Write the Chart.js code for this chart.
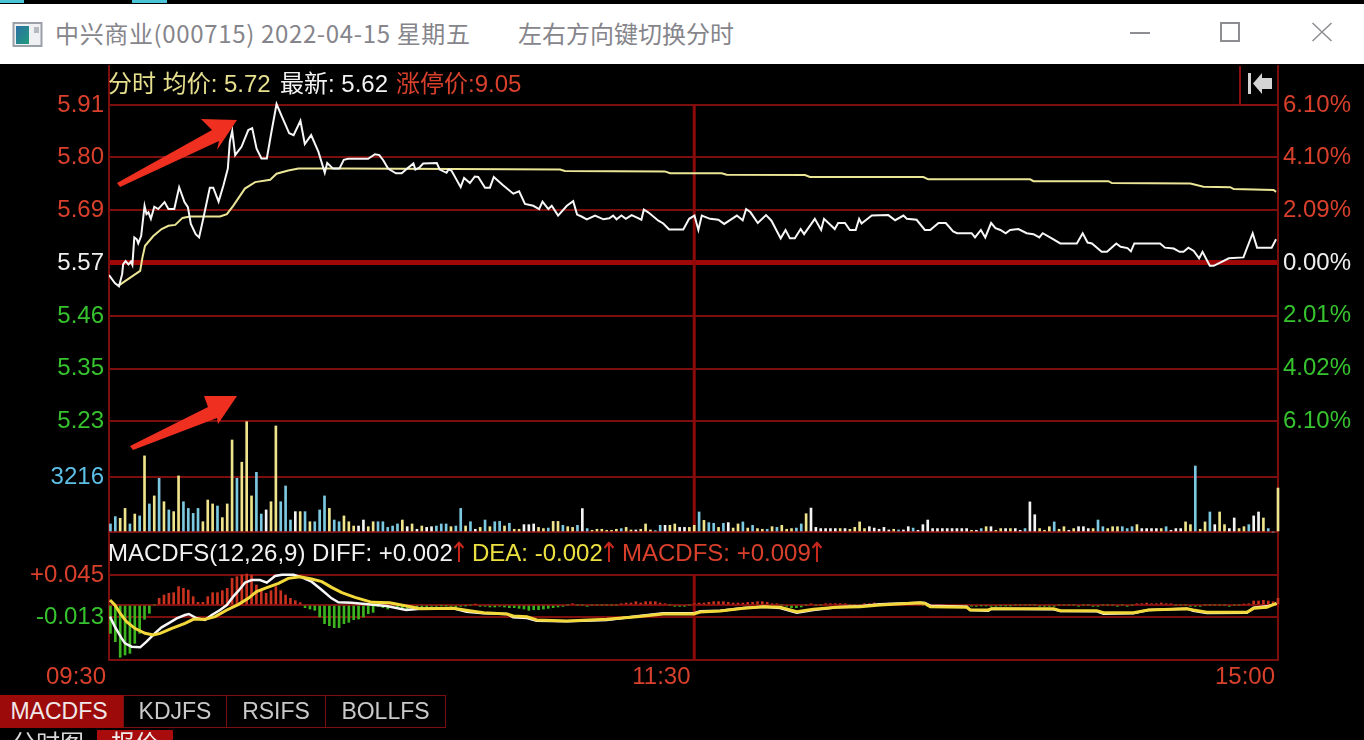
<!DOCTYPE html>
<html>
<head>
<meta charset="utf-8">
<title>中兴商业(000715) 分时</title>
<script src="https://cdn.jsdelivr.net/npm/chart.js@4/dist/chart.umd.min.js"></script>
<style>
  html, body { margin: 0; background: #000; width: 1364px; height: 740px; overflow: hidden; }
  body { font-family: 'Liberation Sans', 'Noto Sans CJK SC', sans-serif; font-size: 24px; }
  #grafico { position: absolute; left: 0; top: 0; }
  .txt { position: absolute; white-space: pre; line-height: 28px; }
  .box { position: absolute; }
  .flecha { font-family: 'DejaVu Sans', sans-serif; color: #c8281c; display: inline-block; transform: scaleY(1.15); margin-left: -4px; }
  #titulo { position: absolute; left: 0; top: 4px; width: 1364px; height: 60px; background: #fff; }
  #titulo .txt { font-family: 'Noto Sans CJK SC', sans-serif; color: #85858b; top: 15px; font-size: 24px; }
  .tab { position: absolute; top: 695px; height: 31px; line-height: 31px; font-size: 23px; text-align: center; border: 1px solid #7a1010; color: #c9c9c9; box-sizing: content-box; }
</style>
</head>
<body>
<canvas id="grafico" width="1364" height="740"></canvas>

<div class="box" style="left:0;top:0;width:24px;height:3px;background:#4cc4d8"></div>
<div class="box" style="left:132px;top:0;width:35px;height:3px;background:#4cc4d8"></div>
<div id="titulo">
  <svg class="box" style="left:12px;top:14px" width="32" height="32">
    <defs><linearGradient id="ico" x1="0" y1="0" x2="1" y2="1"><stop offset="0" stop-color="#2c6fa6"/><stop offset="1" stop-color="#1f9c7c"/></linearGradient></defs>
    <rect x="1.500" y="5" width="28" height="23" fill="#eef0f2" stroke="#9aa0a8" stroke-width="2"/>
    <rect x="4" y="8" width="13" height="18" fill="url(#ico)"/>
    <rect x="22" y="9" width="5" height="6" fill="#b4bac0"/>
  </svg>
  <div class="txt" style="left:55px;letter-spacing:0.65px">中兴商业(000715) 2022-04-15 星期五</div>
  <div class="txt" style="left:518px">左右方向键切换分时</div>
  <svg class="box" style="left:1120px;top:14px" width="220" height="30" fill="none" stroke="#8d8d92" stroke-width="2">
    <path d="M10 15H30"/>
    <rect x="101" y="5" width="18" height="18"/>
    <path d="M192.500 5 L211.500 23 M211.500 5 L192.500 23" stroke-width="1.500"/>
  </svg>
</div>

<div class="txt" style="left:108px;top:70px;color:#e6e08e">分时 均价: 5.72</div>
<div class="txt" style="left:280px;top:70px;color:#f2f2f2">最新: 5.62</div>
<div class="txt" style="left:396px;top:70px;color:#d8402c">涨停价:9.05</div>

<svg class="box" style="left:1238px;top:64px" width="42" height="42">
  <path d="M2 2V41H40" fill="none" stroke="#8a1010" stroke-width="2"/>
  <path d="M10 9H13V30H10Z M15 19.500 L24 9V14H34V25H24V30Z" fill="#d4d4d4"/>
</svg>

<div class="txt" style="left:108px;top:539px;color:#f2f2f2">MACDFS(12,26,9) DIFF: +0.002<span class="flecha">↑</span></div>
<div class="txt" style="left:472px;top:539px;color:#ece040">DEA: -0.002<span class="flecha">↑</span></div>
<div class="txt" style="left:622px;top:539px;color:#d8402c">MACDFS: +0.009<span class="flecha">↑</span></div>

<svg class="box" style="left:0;top:0" width="1364" height="740">
  <path d="M117 183 L212 130 L201 119 L237 120 L217 150 L219 141 L120 187 Z" fill="#ef2f1f"/>
  <path d="M130 446 L208 407 L204 396 L237 396 L218 424 L217 418 L133 450 Z" fill="#ef2f1f"/>
</svg>

<div class="tab" style="left:0;width:116px;padding-right:6px;background:#9c0a0a;color:#f0e8e8;border-color:#9c0a0a">MACDFS</div>
<div class="tab" style="left:123px;width:102px">KDJFS</div>
<div class="tab" style="left:226px;width:98px">RSIFS</div>
<div class="tab" style="left:325px;width:119px">BOLLFS</div>
<div class="txt" style="left:12px;top:730px;color:#d8d8d8">分时图</div>
<div class="txt" style="left:97px;top:730px;width:76px;height:20px;background:#a80c0c;color:#eee;text-align:center;line-height:28px">报价</div>

<script>
// precio por minuto: vertices
const precioMin = [0,1.2,2.05,2.7,2.9,3.4,4,4.5,4.8,5.2,5.7,6,6.6,7.3,7.7,8.1,8.6,9.3,10.1,11.4,12.2,13.4,14.4,15.5,16.2,16.8,17.8,18.5,19.4,20.7,21.4,22.5,23.5,24.4,24.8,25.3,25.9,27.2,28.6,29.4,30.3,31.3,32.4,33.3,34.4,35.5,37,37.9,39.3,40.2,41.5,43,44.3,44.8,46,47.3,48.2,49.1,53.2,54.6,55.5,56.3,57.3,58.9,60.1,61.2,62.5,62.9,63.7,64.5,67.3,67.9,69.3,69.7,70.3,72.2,72.9,74.1,75.1,75.8,77.2,78.2,79,80.9,83,84.2,85.4,87.1,88.3,89,90.2,90.9,92.2,94,95.3,96.1,97,98.1,99.8,101.5,102.7,103.5,104.2,105.2,106.1,107.3,108.3,109.3,109.8,110.7,112.8,113.8,115,117.9,119.1,120.2,121,121.7,123.4,125.1,126.3,128.2,128.9,130.1,130.8,131.7,133.2,134.9,136,137.9,138.9,139.8,140.8,142,142.7,144.9,146.2,146.8,149,149.7,151.1,152.1,153.3,154,154.5,156.6,160,161.4,163.1,163.8,165.8,167.5,168.6,170.3,171.8,173.3,174.1,177.1,177.8,179,179.9,181.1,182,183,184.1,185,186.7,188.4,189.8,191,191.7,193.9,195.3,198.7,199.9,200.9,201.8,203.8,204.9,206.8,207.7,209.1,209.8,210.5,215.8,216.8,218.6,219.8,220.6,221.6,222.7,223.8,224.5,226,226.8,229.9,232.9,234.8,235.7,238.7,239.6];
const precios = [5.544,5.527,5.52,5.546,5.567,5.574,5.567,5.573,5.566,5.625,5.621,5.612,5.628,5.693,5.675,5.679,5.665,5.691,5.686,5.701,5.686,5.686,5.733,5.701,5.69,5.654,5.632,5.625,5.668,5.732,5.732,5.702,5.737,5.773,5.831,5.854,5.802,5.82,5.856,5.86,5.816,5.795,5.795,5.849,5.912,5.885,5.849,5.845,5.876,5.826,5.845,5.809,5.764,5.785,5.773,5.773,5.792,5.794,5.794,5.804,5.802,5.791,5.773,5.763,5.763,5.773,5.784,5.771,5.775,5.784,5.785,5.771,5.764,5.771,5.769,5.733,5.753,5.742,5.756,5.755,5.732,5.732,5.755,5.737,5.719,5.724,5.697,5.693,5.686,5.702,5.686,5.693,5.672,5.693,5.703,5.674,5.67,5.664,5.672,5.664,5.666,5.672,5.664,5.672,5.665,5.673,5.668,5.663,5.685,5.679,5.661,5.655,5.642,5.642,5.665,5.672,5.641,5.672,5.665,5.663,5.654,5.667,5.672,5.662,5.686,5.679,5.656,5.673,5.661,5.623,5.641,5.623,5.623,5.643,5.632,5.665,5.641,5.665,5.643,5.656,5.656,5.641,5.641,5.665,5.655,5.672,5.673,5.662,5.672,5.665,5.663,5.641,5.641,5.656,5.656,5.638,5.634,5.634,5.625,5.641,5.625,5.656,5.645,5.641,5.634,5.641,5.643,5.634,5.632,5.625,5.634,5.621,5.612,5.612,5.634,5.614,5.612,5.594,5.594,5.612,5.605,5.602,5.595,5.612,5.612,5.603,5.601,5.594,5.594,5.603,5.596,5.58,5.594,5.564,5.564,5.58,5.582,5.634,5.603,5.603,5.621];

const mediaMin = [2.05,3.3,6.4,6.85,7.4,9.1,10.8,12.2,13.6,15.1,16.6,22.8,24.2,25.5,27.9,30,33.1,34.4,36.8,38.9,48.5,92.6,93.6,114.1,115.2,125.8,126.8,142.9,143.9,167.2,168.2,189.1,189.8,205.2,205.9,222,224.7,230.2,230.9,239.1,239.6];
const medias = [5.522,5.531,5.553,5.581,5.607,5.628,5.643,5.65,5.652,5.667,5.67,5.67,5.675,5.693,5.73,5.744,5.749,5.762,5.769,5.773,5.773,5.771,5.768,5.767,5.763,5.763,5.76,5.759,5.755,5.755,5.75,5.75,5.746,5.746,5.742,5.741,5.734,5.733,5.729,5.727,5.723];

const volumenes = [470,900,800,1380,470,1050,940,4450,1640,2110,3140,1770,1290,1190,3280,1770,1380,1090,1380,600,
  1870,1640,1520,840,1640,5380,3140,4080,6450,2110,3490,1050,1290,1770,6200,1770,2690,700,1190,1190,
  1190,600,600,1290,2110,1380,700,600,940,600,350,350,700,310,600,600,600,270,350,470,
  700,310,470,160,350,270,310,350,470,470,310,350,1380,350,600,160,270,700,310,600,
  620,350,510,160,160,430,430,470,270,200,230,620,620,390,310,270,390,1370,200,100,
  160,160,100,100,160,200,270,120,120,160,470,120,80,390,390,390,470,270,270,270,
  390,1170,680,550,510,270,510,550,230,470,590,230,390,200,160,160,310,270,390,160,
  200,230,470,1070,1400,270,200,200,200,200,200,200,160,270,590,200,310,230,160,270,
  120,160,120,120,310,230,100,430,700,200,200,200,200,200,200,200,200,100,100,200,
  310,310,100,200,200,200,200,100,200,1760,1010,200,100,310,590,160,310,100,200,310,
  310,200,200,700,310,200,310,310,310,200,310,430,200,200,200,200,200,310,100,200,
  200,590,430,3860,160,590,1170,430,1170,430,200,820,200,310,430,940,1170,820,200,0,2570];
// b = venta, y = compra, w = neutro
const volumenTipo = ('bbyybybyby' + 'bybyybbbby' + 'yybyyybyyy' + 'bbwyybbbwy' + 'bybbbybbyy' + 'ywwyybbbbb' + 'ywywywwbbb' + 'ybbybwybyb' +
  'bybyywwwyy' + 'byybyybwby' + 'yyyyybyywy' + 'yybbwyywwy' + 'ybybbybwyy' + 'bybyybybyy' + 'ybbywwwwww' + 'ywyyyywwww' +
  'wybwwbwwww' + 'wwwwwwwywb' + 'ywyywywwbw' + 'wyyybyywyw' + 'wwybbyyybb' + 'bywwwwybww' +
  'wyybyybwyy' + 'wwyybwwy').split('');

const macdBarras = [
  -0.0425,-0.055,-0.0785,-0.075,-0.0725,-0.0575,-0.0425,-0.0215,-0.0125,0,
  0.01,0.015,0.0175,0.0185,0.0275,0.025,0.0225,0.0125,0.004,0.004,0.0125,0.0185,0.0185,0.0215,0.025,0.04,0.0425,0.045,0.0465,0.045,0.03,0.0225,0.0175,0.0215,0.0275,0.0215,0.015,0.01,0.0065,0.0035,
  -0.004,-0.006,-0.008,-0.018,-0.028,-0.031,-0.034,-0.034,-0.028,-0.026,-0.022,-0.021,-0.018,-0.013,-0.011,
  -0.002,-0.004,-0.006,-0.004,-0.003,-0.005,-0.006,-0.007,-0.006,-0.004,-0.003,-0.002,-0.002,-0.001,-0.001,-0.002,-0.003,-0.002,-0.001,0,0.001,
  -0.002,-0.002,-0.003,-0.003,-0.002,-0.003,-0.004,-0.004,-0.005,-0.006,-0.008,-0.007,-0.007,-0.006,-0.005,-0.004,-0.003,-0.002,
  0,0.002,0,0,-0.002,0,0,0,0,0,0,
  0.002,0.003,0.003,0.005,0.003,0.005,0.005,0.005,0.003,0.002,
  0,-0.002,-0.002,-0.002,0,
  0.002,0.003,0.003,0.004,0.005,0.005,0.005,0.004,0.003,0.003,0.003,0.004,0.004,0.005,0.005,0.004,0.002,0.002,
  0,-0.002,-0.004,-0.004,-0.003,0,0.002,0,0,
  0.002,0.002,0.002,0.002,0.002,0,0,0,
  0.002,0.002,0.003,0.002,0.002,0.003,0.002,0.002,0.003,0.002,0.002,0.002,0,
  -0.002,-0.002,-0.003,-0.003,-0.004,-0.004,-0.003,-0.003,-0.002,
  -0.002,-0.002,-0.001,-0.001,-0.002,-0.002,-0.001,-0.001,-0.001,0,0,0,0,0,
  -0.002,-0.002,-0.002,-0.002,0,0,0,0,-0.002,0,0,-0.002,-0.002,0,0,0,-0.002,0,-0.002,0,
  0.002,0.002,0.003,0.002,0.002,0.003,0.002,0.002,0,0,0,
  -0.002,-0.002,-0.002,0,0,0,0,0,-0.002,0,0,
  0.001,0.002,0.006,0.006,0.007,0.006,0.005,0.01];

const diffMin = [0.2,1.2,2.6,3.3,4.65,6.4,7.7,9.4,10.8,12.2,13.9,15.6,16.4,18,19.7,21.1,22.8,24.2,25.5,26.6,27.9,29.3,31,32.4,34.1,35.5,37.9,39.6,41.6,43.7,45.7,47.1,49.8,57,61,63.9,70.7,73.4,76.9,81.7,83,85.8,87.8,94,102.2,108.4,113.8,120,121.4,125.5,130.3,134.4,137.8,141.2,144.6,149.4,154.2,158.3,166.6,167.5,168.6,176.1,176.8,180.5,181.2,193.9,195.3,202.8,204.2,210.3,213.4,221.3,222.6,225.4,233.6,235,237.7,239.7];
const diffValores = [-0.0175,-0.0325,-0.05,-0.0575,-0.0625,-0.0635,-0.055,-0.0425,-0.0335,-0.0275,-0.02,-0.015,-0.0135,-0.02,-0.0225,-0.015,-0.0075,0,0.0125,0.0215,0.0335,0.0375,0.0375,0.0335,0.0435,0.0455,0.0455,0.0415,0.035,0.0225,0.01,0.004,0.0035,-0.0015,-0.0075,-0.0055,-0.005,-0.01,-0.0125,-0.0135,-0.0185,-0.0195,-0.0235,-0.0245,-0.0225,-0.017,-0.0125,-0.0125,-0.0095,-0.0085,-0.0045,-0.0025,-0.0045,-0.0115,-0.0075,-0.0035,-0.002,0.001,0.0035,0.003,-0.001,-0.0025,-0.0075,-0.0085,-0.0055,-0.0065,-0.009,-0.0095,-0.013,-0.0125,-0.0075,-0.0055,-0.0085,-0.012,-0.0115,-0.004,-0.002,0.002];

const deaMin = [0.2,1.2,2.3,3.6,5.3,7.4,9.1,10.5,12.9,15.6,17.3,19.7,21.8,24.2,26.6,28.6,30.3,32,34.8,36.8,39.2,41.6,43.7,45.7,47.8,50.5,54,57.6,61.1,63.9,70.7,74,76.9,81.7,83,85.8,87.8,94,102.2,108.4,113.8,120,121.4,125.5,130.3,134.4,137.8,141.2,144.6,149.4,154.2,158.3,166.6,167.5,168.6,176.1,176.8,180.5,181.2,193.9,195.3,202.8,204.2,210.3,213.4,221.3,222.6,225.4,233.6,235,237.7,239.7];
const deaValores = [0.0075,0,-0.0125,-0.025,-0.035,-0.0425,-0.045,-0.0425,-0.035,-0.0275,-0.0215,-0.0215,-0.0175,-0.0075,0.001,0.01,0.02,0.025,0.0325,0.04,0.0425,0.039,0.035,0.0265,0.0185,0.0115,0.004,0.0035,-0.0015,-0.0055,-0.005,-0.0085,-0.0115,-0.0135,-0.0165,-0.0175,-0.0225,-0.024,-0.0215,-0.0175,-0.0135,-0.0135,-0.0105,-0.009,-0.005,-0.0025,-0.0035,-0.01,-0.0065,-0.0035,-0.0025,0,0.0035,0.0025,-0.0025,-0.0035,-0.0075,-0.0075,-0.0055,-0.0055,-0.0085,-0.0085,-0.0115,-0.0115,-0.0075,-0.0055,-0.0075,-0.011,-0.011,-0.005,-0.0035,0.0025];

const precioTicks = [5.91,5.797,5.684,5.57,5.456,5.343,5.23];
const precioLabels = ['5.91','5.80','5.69','5.57','5.46','5.35','5.23'];
const pctTicks = [6.1,4.07,2.03,0,-2.03,-4.07,-6.1];
const pctLabels = ['6.10%','4.10%','2.09%','0.00%','2.01%','4.02%','6.10%'];
const volTicks = [3216,0];
const volLabels = ['3216',''];
const macdTicks = [0.045,0,-0.018,-0.0825];
const macdLabels = ['+0.045','','-0.013',''];
const horaTicks = [0,120,240];
const horaLabels = ['09:30','11:30','15:00'];

const ROJO = '#d8402c', VERDE = '#36c32e', BLANCO = '#efefef';
const REJILLA = '#7d0e0e';
const TONOS = { b: '#7cc8e0', y: '#efe48c', w: '#f4f4f4' };
const fuente = { family: "'Liberation Sans', sans-serif", size: 24 };

function puntos(xs, ys) { return xs.map((x, i) => ({ x, y: ys[i] })); }

function ejeY(ticks, labels, extra) {
  return Object.assign({
    type: 'linear', axis: 'y', position: 'left', stack: 'izq',
    afterBuildTicks: s => { s.ticks = ticks.map(v => ({ value: v })); },
    afterFit: s => { s.width = 109; },
    grid: { color: REJILLA, lineWidth: 2, drawTicks: false },
    border: { color: REJILLA, width: 2 },
    ticks: { font: fuente, padding: 5, autoSkip: false, callback: (v, i) => labels[i] }
  }, extra);
}

function ejeDer(ticks, labels, extra) {
  return Object.assign({
    type: 'linear', axis: 'y', position: 'right', stack: 'der',
    afterBuildTicks: s => { s.ticks = ticks.map(v => ({ value: v })); },
    afterFit: s => { s.width = 86; },
    grid: { display: false, drawTicks: false },
    border: { color: REJILLA, width: 2 },
    ticks: { font: fuente, padding: 5, autoSkip: false, callback: (v, i) => labels[i] }
  }, extra);
}

// linea vertical de las 11:30, cortada en la franja del texto MACD
const lineaMedia = {
  id: 'lineaMedia',
  beforeDatasetsDraw(chart) {
    const { ctx, scales } = chart;
    const x = scales.xBar.getPixelForValue(120);
    ctx.save();
    ctx.strokeStyle = '#8c0a0a';
    ctx.lineWidth = 3;
    ctx.beginPath();
    ctx.moveTo(x, scales.yPrecio.getPixelForValue(5.91));
    ctx.lineTo(x, scales.yVol.getPixelForValue(0));
    ctx.moveTo(x, scales.yMacd.getPixelForValue(0.045));
    ctx.lineTo(x, scales.yMacd.getPixelForValue(-0.0825));
    ctx.stroke();
    ctx.restore();
  }
};

new Chart(document.getElementById('grafico').getContext('2d'), {
  type: 'bar',
  data: {
    datasets: [
      { type: 'bar', label: 'Volumen', xAxisID: 'xBar', yAxisID: 'yVol', grouped: false, barThickness: 2, clip: false, order: 5,
        data: puntos(volumenes.map((v, i) => i), volumenes),
        backgroundColor: volumenTipo.map(t => TONOS[t]) },
      { type: 'bar', label: 'MACDFS', xAxisID: 'xBar', yAxisID: 'yMacd', grouped: false, barThickness: 2, clip: false, order: 4,
        data: puntos(macdBarras.map((v, i) => i), macdBarras),
        backgroundColor: macdBarras.map(v => v > 0 ? '#c8321e' : '#3cb420') },
      { type: 'line', label: 'DIFF', xAxisID: 'xTime', yAxisID: 'yMacd', data: puntos(diffMin, diffValores),
        borderColor: '#f6f6f6', borderWidth: 2.5, pointRadius: 0, tension: 0, order: 3 },
      { type: 'line', label: 'DEA', xAxisID: 'xTime', yAxisID: 'yMacd', data: puntos(deaMin, deaValores),
        borderColor: '#f2d83a', borderWidth: 3, pointRadius: 0, tension: 0, order: 2 },
      { type: 'line', label: '均价', xAxisID: 'xTime', yAxisID: 'yPrecio', data: puntos(mediaMin, medias),
        borderColor: '#ebe596', borderWidth: 2, pointRadius: 0, tension: 0, order: 1 },
      { type: 'line', label: '最新', xAxisID: 'xTime', yAxisID: 'yPrecio', data: puntos(precioMin, precios),
        borderColor: '#f7f7f7', borderWidth: 2, pointRadius: 0, tension: 0, order: 0 }
    ]
  },
  options: {
    responsive: false,
    animation: false,
    layout: { padding: { top: 66, left: 0, right: 0, bottom: 0 } },
    plugins: { legend: { display: false }, tooltip: { enabled: false } },
    scales: {
      xTime: {
        type: 'linear', position: 'bottom', min: 0, max: 240, offset: false,
        afterBuildTicks: s => { s.ticks = horaTicks.map(v => ({ value: v })); },
        afterFit: s => { s.height = 80; },
        grid: { display: false, drawTicks: false },
        border: { display: false },
        ticks: { font: fuente, color: ROJO, align: 'end', labelOffset: -3, padding: 3, maxRotation: 0, autoSkip: false,
          callback: (v, i) => horaLabels[i] }
      },
      xBar: { type: 'linear', display: false, min: -0.3, max: 240, offset: false },
      // la pila izquierda se coloca de abajo arriba en el orden de declaracion
      yMacd: ejeY(macdTicks, macdLabels, {
        min: -0.0825, max: 0.1095, stackWeight: 128,
        ticks: { font: fuente, padding: 5, autoSkip: false, callback: (v, i) => macdLabels[i],
          color: c => c.tick.value > 0 ? ROJO : VERDE }
      }),
      yVol: ejeY(volTicks, volLabels, {
        min: 0, max: 3216, stackWeight: 55,
        ticks: { font: fuente, padding: 5, autoSkip: false, color: '#5cc0e6', callback: (v, i) => volLabels[i] }
      }),
      yPrecio: ejeY(precioTicks, precioLabels, {
        min: 5.1097, max: 5.9937, stackWeight: 411,
        grid: { drawTicks: false,
          color: c => c.tick && c.tick.value === 5.57 ? '#a00808' : REJILLA,
          lineWidth: c => c.tick && c.tick.value === 5.57 ? 5 : 2 },
        ticks: { font: fuente, padding: 5, autoSkip: false, callback: (v, i) => precioLabels[i],
          color: c => c.tick.value > 5.57 ? ROJO : c.tick.value < 5.57 ? VERDE : BLANCO }
      }),
      yPct: ejeDer(pctTicks, pctLabels, {
        min: -8.26, max: 7.61, stackWeight: 411,
        ticks: { font: fuente, padding: 5, autoSkip: false, callback: (v, i) => pctLabels[i],
          color: c => c.tick.value > 0 ? ROJO : c.tick.value < 0 ? VERDE : BLANCO }
      }),
      yVolDer: ejeDer([], [], { min: 0, max: 1, stackWeight: 55, ticks: { display: false } }),
      yMacdDer: ejeDer([], [], { min: 0, max: 1, stackWeight: 128, ticks: { display: false } })
    }
  },
  plugins: [lineaMedia]
});
</script>
</body>
</html>
